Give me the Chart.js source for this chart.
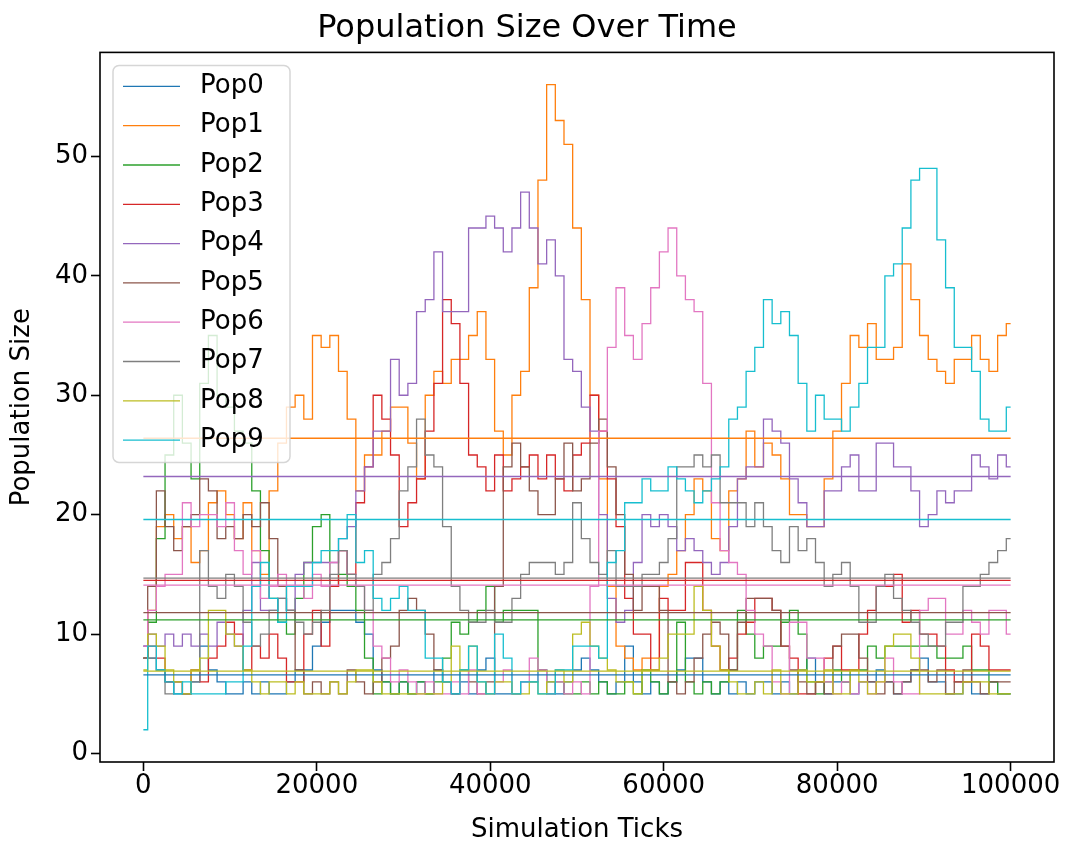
<!DOCTYPE html>
<html>
<head>
<meta charset="utf-8">
<script src="https://cdn.jsdelivr.net/npm/chart.js@4.4.0/dist/chart.umd.min.js"></script>
<style>
  body { margin: 0; background: #fff; }
  #wrap { width: 1066px; height: 846px; }
</style>
</head>
<body>
<div id="wrap"><canvas id="popChart" width="1066" height="846"></canvas></div>
<script>
// sample points along the run, every 1000 ticks
var simTicks = [0,1000,2000,3000,4000,5000,6000,7000,8000,9000,
  10000,11000,12000,13000,14000,15000,16000,17000,18000,19000,
  20000,21000,22000,23000,24000,25000,26000,27000,28000,29000,
  30000,31000,32000,33000,34000,35000,36000,37000,38000,39000,
  40000,41000,42000,43000,44000,45000,46000,47000,48000,49000,
  50000,51000,52000,53000,54000,55000,56000,57000,58000,59000,
  60000,61000,62000,63000,64000,65000,66000,67000,68000,69000,
  70000,71000,72000,73000,74000,75000,76000,77000,78000,79000,
  80000,81000,82000,83000,84000,85000,86000,87000,88000,89000,
  90000,91000,92000,93000,94000,95000,96000,97000,98000,99000,100000];

var popNames = ['Pop0','Pop1','Pop2','Pop3','Pop4','Pop5','Pop6','Pop7','Pop8','Pop9'];
var popColors = ['#1f77b4','#ff7f0e','#2ca02c','#d62728','#9467bd','#8c564b','#e377c2','#7f7f7f','#bcbd22','#17becf'];

var pop0 = [9,8,7,6,5,5,6,9,7,6, 5,5,6,5,6,5,5,6,7,7, 9,11,12,12,12,11,10,7,6,5,
  6,5,6,5,7,6,5,6,5,7, 8,5,5,5,6,6,7,6,5,6, 7,8,7,6,5,6,9,6,5,6,
  5,6,7,8,8,6,5,6,5,6, 5,6,6,5,6,5,7,8,6,5, 6,6,5,6,6,7,6,5,6,7, 8,6,6,5,5,6,5,5,6,5,5];
var pop1 = [8,12,19,20,18,19,16,17,21,22, 20,18,21,17,15,22,26,29,30,28, 35,34,35,32,28,22,25,25,27,29,
  29,26,23,30,32,31,33,33,35,37, 33,27,25,30,32,39,48,56,53,51, 44,38,30,23,14,9,8,7,8,8,
  14,15,17,20,23,22,18,17,22,23, 27,24,26,25,23,20,20,19,19,23, 27,31,35,34,36,33,33,34,41,38, 35,33,32,31,33,33,35,33,32,35,36];
var pop2 = [8,11,18,25,30,26,23,31,35,30, 29,27,26,22,17,13,11,10,13,16, 19,20,14,15,14,12,8,5,6,5,
  6,5,6,5,6,8,11,10,11,12, 14,11,12,12,12,12,7,5,6,5, 5,6,5,6,5,5,6,5,7,6,
  5,6,11,6,5,6,5,6,7,12, 10,8,9,9,11,12,10,6,5,6, 7,6,7,7,9,8,9,9,9,9, 9,9,8,8,8,9,7,7,6,5,5];
var pop3 = [8,9,8,6,6,5,7,6,8,9, 11,10,7,9,8,10,8,6,6,10, 12,9,14,17,15,21,24,30,28,25,
  19,21,23,27,31,38,36,31,25,24, 22,25,22,23,24,25,23,25,23,22, 25,26,30,27,23,19,13,10,10,7,
  13,12,12,16,16,12,9,7,8,10, 11,13,13,12,9,8,5,5,6,8, 9,7,7,10,12,14,14,15,11,12, 10,10,9,7,6,6,10,9,7,7,7];
var pop4 = [9,10,9,10,9,10,9,10,9,11, 10,9,12,16,12,12,13,12,15,16, 16,16,16,18,19,22,24,27,27,33,
  30,31,37,38,42,37,37,37,44,44, 45,44,42,44,47,44,41,43,40,33, 32,29,27,20,13,11,12,16,20,19,
  20,19,17,18,17,16,15,16,19,23, 24,24,28,27,26,23,21,19,19,22, 22,24,25,22,22,26,26,24,24,22, 19,20,22,21,22,22,25,24,23,25,24];
var pop5 = [8,14,22,19,17,19,20,23,22,18, 19,18,20,19,21,18,14,12,7,5, 6,5,6,5,7,6,5,6,8,9,
  12,13,12,10,7,6,5,7,6,5, 6,14,24,26,24,22,20,20,23,26, 22,23,26,28,24,20,15,12,14,14,
  12,6,5,6,8,10,11,10,7,11, 13,13,13,12,9,7,6,5,6,5, 9,10,10,8,6,5,6,5,6,7, 7,6,7,5,6,7,6,5,6,6,6];
var pop6 = [9,12,14,15,15,21,19,20,20,19, 21,17,15,17,13,14,15,14,14,13, 15,14,16,17,15,14,12,9,8,6,
  7,6,5,6,5,5,6,5,7,5, 5,6,7,5,6,8,7,5,6,5, 6,5,14,27,34,39,35,33,36,39,
  42,44,40,38,37,31,21,17,16,15, 12,10,9,6,5,11,11,8,8,6, 5,6,5,6,5,6,8,6,5,5, 12,13,13,10,10,12,11,10,12,12,10];
var pop7 = [8,8,7,5,6,5,6,17,14,13, 15,14,11,9,10,12,13,12,11,10, 11,12,15,17,15,14,12,15,16,18,
  22,24,28,25,24,19,14,12,11,11, 12,11,11,13,15,16,16,16,15,16, 21,18,16,15,17,14,14,14,15,15,
  16,18,24,24,25,24,25,21,21,21, 19,21,19,17,16,19,17,18,16,14, 15,16,14,11,11,14,15,13,12,11, 10,9,9,11,11,14,14,15,16,17,18];
var pop8 = [7,10,9,7,6,5,7,8,12,12, 10,9,7,6,5,6,6,5,6,5, 5,5,6,5,6,7,7,6,5,5,
  5,5,5,5,5,6,9,7,9,6, 5,6,6,5,5,6,5,6,7,6, 10,11,9,8,7,6,6,5,7,7,
  8,10,10,10,14,12,9,7,6,5, 5,6,5,7,5,5,7,6,6,7, 5,5,7,6,5,6,9,10,10,8, 5,5,5,5,5,6,6,6,5,5,5];
var pop9 = [2,9,7,6,5,6,5,5,5,5, 6,6,9,14,16,13,11,14,14,14, 16,17,17,18,20,16,17,13,12,13,
  14,12,12,8,8,6,5,7,9,6, 5,10,8,5,6,6,5,5,7,7, 9,9,9,8,16,17,21,21,23,22,
  22,24,23,22,21,22,23,24,28,29, 32,34,38,36,37,35,31,27,30,28, 28,27,29,31,34,34,40,41,44,48, 49,49,43,39,34,34,32,28,27,27,29];

// average size of each population over the whole run
var popMeans = [6.6, 26.4, 11.2, 14.5, 23.2, 11.8, 14.1, 14.7, 6.9, 19.6];

var xTicks = [0, 20000, 40000, 60000, 80000, 100000];
var yTicks = [0, 10, 20, 30, 40, 50];

var allPops = [pop0, pop1, pop2, pop3, pop4, pop5, pop6, pop7, pop8, pop9];
var FONT = 'DejaVu Sans';

var datasets = [];
allPops.forEach(function(vals, i) {
  datasets.push({
    label: popNames[i],
    data: vals.map(function(v, j) { return {x: simTicks[j], y: v}; }),
    borderColor: popColors[i],
    borderWidth: 1.3,
    pointRadius: 0,
    stepped: 'middle',
    order: 100 - i
  });
});
popMeans.forEach(function(m, i) {
  datasets.push({
    label: popNames[i] + ' mean',
    data: [{x: simTicks[0], y: m}, {x: simTicks[simTicks.length - 1], y: m}],
    borderColor: popColors[i],
    borderWidth: 1.3,
    pointRadius: 0,
    order: 50 - i
  });
});

// legend box drawn over the lines, like a semi-transparent frame
var legendBox = {
  id: 'legendBox',
  afterDatasetsDraw: function(chart) {
    var ctx = chart.ctx, a = chart.chartArea;
    var x = a.left + 13, y = a.top + 13, w = 177, h = 397, r = 6;
    ctx.save();
    ctx.beginPath();
    ctx.moveTo(x + r, y);
    ctx.arcTo(x + w, y, x + w, y + h, r);
    ctx.arcTo(x + w, y + h, x, y + h, r);
    ctx.arcTo(x, y + h, x, y, r);
    ctx.arcTo(x, y, x + w, y, r);
    ctx.closePath();
    ctx.fillStyle = 'rgba(255,255,255,0.8)';
    ctx.fill();
    ctx.strokeStyle = 'rgba(204,204,204,0.8)';
    ctx.lineWidth = 1.5;
    ctx.stroke();
    ctx.font = '26px "' + FONT + '"';
    ctx.textBaseline = 'middle';
    ctx.fillStyle = '#000';
    for (var i = 0; i < popNames.length; i++) {
      var cy = y + 21 + i * 39.3;
      ctx.strokeStyle = popColors[i];
      ctx.lineWidth = 1.3;
      ctx.beginPath();
      ctx.moveTo(x + 10, cy);
      ctx.lineTo(x + 67, cy);
      ctx.stroke();
      ctx.fillText(popNames[i], x + 87, cy);
    }
    ctx.restore();
  },
  afterDraw: function(chart) {
    var ctx = chart.ctx, a = chart.chartArea;
    ctx.save();
    ctx.strokeStyle = '#000';
    ctx.lineWidth = 1.6;
    ctx.strokeRect(a.left, a.top, a.right - a.left, a.bottom - a.top);
    ctx.restore();
  }
};

new Chart(document.getElementById('popChart'), {
  type: 'line',
  data: { datasets: datasets },
  plugins: [legendBox],
  options: {
    responsive: false,
    animation: false,
    devicePixelRatio: 1,
    layout: { padding: { left: 0, right: 12, top: 0, bottom: 0 } },
    plugins: {
      legend: { display: false },
      tooltip: { enabled: false },
      title: {
        display: true,
        text: 'Population Size Over Time',
        color: '#000',
        font: { family: FONT, size: 32, weight: 'normal' },
        padding: { top: 9, bottom: 5 }
      }
    },
    scales: {
      x: {
        type: 'linear',
        min: -5000,
        max: 105000,
        afterFit: function(s) { s.height = 84; },
        afterBuildTicks: function(s) { s.ticks = xTicks.map(function(v) { return {value: v}; }); },
        grid: { drawOnChartArea: false, drawTicks: true, tickLength: 9, tickWidth: 1.6, tickColor: '#000' },
        border: { display: false },
        ticks: {
          color: '#000', padding: 0, maxRotation: 0,
          font: { family: FONT, size: 26 },
          callback: function(v) { return String(v); }
        },
        title: {
          display: true, text: 'Simulation Ticks', color: '#000',
          font: { family: FONT, size: 26 },
          padding: { top: 0, bottom: 0 }
        }
      },
      y: {
        type: 'linear',
        min: -0.7,
        max: 58.7,
        afterFit: function(s) { s.width = 100; },
        afterBuildTicks: function(s) { s.ticks = yTicks.map(function(v) { return {value: v}; }); },
        grid: { drawOnChartArea: false, drawTicks: true, tickLength: 9, tickWidth: 1.6, tickColor: '#000' },
        border: { display: false },
        ticks: {
          color: '#000', padding: 3,
          font: { family: FONT, size: 26 },
          callback: function(v) { return String(v); }
        },
        title: {
          display: true, text: 'Population Size', color: '#000',
          font: { family: FONT, size: 26 },
          padding: { top: 7, bottom: 0 }
        }
      }
    }
  }
});
</script>
</body>
</html>
